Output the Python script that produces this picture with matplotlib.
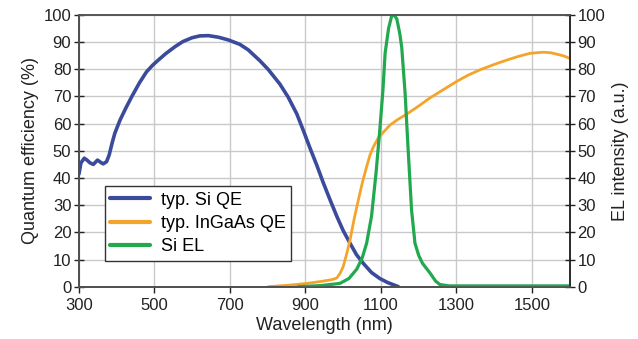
import matplotlib
matplotlib.use("Agg")
import matplotlib.pyplot as plt

plt.rcParams['font.family'] = ['Liberation Sans', 'DejaVu Sans']

# Typical Si QE (%)
si_wl = [300, 305, 314, 322, 329, 338, 349, 357, 364, 373, 380, 388, 395, 409, 425, 440, 460,
         479, 495, 510, 530, 554, 575, 599, 620, 643, 670, 696, 726, 748, 779, 801, 832, 854,
         877, 894, 912, 930, 947, 965, 983, 1000, 1018, 1035, 1053, 1075, 1097, 1118, 1137, 1146]
si_qe = [41.5, 45.5, 47.3, 46.5, 45.6, 45.0, 46.6, 45.8, 45.2, 46.0, 48.5, 53.0, 56.5, 61.4,
         66.0, 70.0, 75.0, 79.1, 81.5, 83.4, 85.8, 88.3, 90.2, 91.6, 92.3, 92.4, 91.8, 90.8,
         89.2, 87.2, 83.2, 80.0, 74.6, 69.8, 63.6, 57.6, 51.0, 44.7, 38.3, 32.0, 25.9, 20.6,
         16.0, 11.8, 8.6, 5.2, 3.0, 1.5, 0.5, 0.0]

# Typical InGaAs QE (%)
ingaas_wl = [801, 860, 903, 940, 970, 983, 992, 1000, 1009, 1018, 1029, 1040, 1051, 1062, 1071,
             1080, 1093, 1106, 1124, 1142, 1168, 1200, 1230, 1265, 1300, 1330, 1362, 1400, 1433,
             1465, 1495, 1530, 1550, 1565, 1585, 1600]
ingaas_qe = [0.0, 0.6, 1.2, 1.9, 2.6, 3.2, 5.0, 7.4, 12.0, 17.2, 25.0, 31.9, 38.5, 44.2, 48.5,
             51.5, 54.8, 56.8, 59.5, 61.3, 63.5, 66.5, 69.5, 72.5, 75.5, 77.8, 79.8, 81.8, 83.4,
             84.8, 85.9, 86.3, 86.1, 85.6, 84.9, 84.0]

# Si electroluminescence (a.u.)
el_wl = [880, 940, 991, 1015, 1036, 1050, 1062, 1075, 1087, 1097, 1105, 1111, 1120, 1128, 1135,
         1142, 1150, 1155, 1164, 1172, 1181, 1190, 1200, 1210, 1230, 1245, 1256, 1280, 1400, 1600]
el_int = [0.0, 0.4, 1.2, 3.0, 6.5, 10.5, 16.0, 26.0, 42.0, 58.0, 72.0, 86.0, 95.0, 99.5, 100.0,
          98.5, 93.0, 88.0, 71.0, 50.3, 28.2, 16.0, 11.5, 8.6, 5.0, 2.0, 0.8, 0.3, 0.3, 0.3]

x_ticks = [300, 500, 700, 900, 1100, 1300, 1500]
y_ticks = [0, 10, 20, 30, 40, 50, 60, 70, 80, 90, 100]

BLUE = '#3b4b9b'
ORANGE = '#f5a42a'
GREEN = '#22a84e'

fig = plt.figure(figsize=(6.38, 3.39), dpi=100)
ax = fig.add_axes([0.1238, 0.1543, 0.7692, 0.8015])

ax.set_xlim(300, 1600)
ax.set_ylim(0, 100)
ax.set_xticks(x_ticks)
ax.set_yticks(y_ticks)
ax.grid(True, color='#c9c9c9', linewidth=1.0)
ax.set_axisbelow(True)

l1, = ax.plot(si_wl, si_qe, color=BLUE, lw=2.6, label='typ. Si QE',
              solid_capstyle='round', solid_joinstyle='round')
l2, = ax.plot(ingaas_wl, ingaas_qe, color=ORANGE, lw=2.0, label='typ. InGaAs QE',
              solid_capstyle='round', solid_joinstyle='round')

ax2 = ax.twinx()
ax2.set_ylim(0, 100)
ax2.set_yticks(y_ticks)
l3, = ax2.plot(el_wl, el_int, color=GREEN, lw=2.3, label='Si EL',
               solid_capstyle='round', solid_joinstyle='round')

for a in (ax, ax2):
    a.tick_params(labelsize=12, direction='inout', length=7, width=1, colors='#222222')
    for s in a.spines.values():
        s.set_color('#555555')
        s.set_linewidth(1.2)
ax.spines['left'].set_color('#222222')
ax2.spines['right'].set_color('#222222')
ax.spines['bottom'].set_color('#222222')
ax.tick_params(axis='x', length=4, direction='out', pad=4)
ax.tick_params(axis='y', pad=2)
ax2.tick_params(axis='y', pad=2)

ax.set_xlabel('Wavelength (nm)', fontsize=13, color='#222222', labelpad=3)
ax.set_ylabel('Quantum efficiency (%)', fontsize=13, color='#222222', labelpad=3)
ax2.set_ylabel('EL intensity (a.u.)', fontsize=13, color='#222222', labelpad=5)

leg = ax2.legend(handles=[l1, l2, l3], loc='lower left', bbox_to_anchor=(0.053, 0.096),
                 fontsize=13, frameon=True, fancybox=False, handlelength=2.2,
                 borderpad=0.3, labelspacing=0.35, handletextpad=0.6, borderaxespad=0)
leg.get_frame().set_edgecolor('#333333')
leg.get_frame().set_linewidth(1.0)
leg.get_frame().set_alpha(1)
for line in leg.get_lines():
    line.set_linewidth(3)

fig.savefig('out.png', dpi=100)
